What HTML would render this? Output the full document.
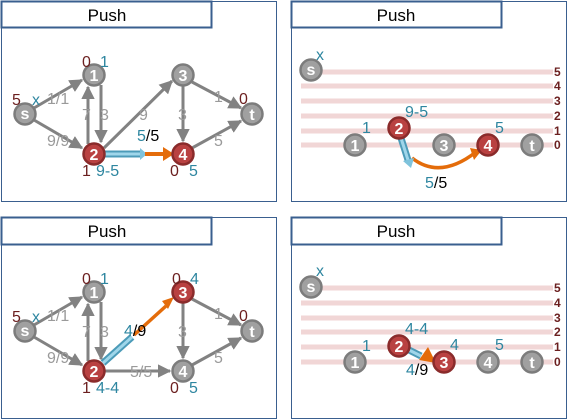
<!DOCTYPE html>
<html><head><meta charset="utf-8"><style>
body{margin:0;background:#fff}
svg{display:block;font-family:"Liberation Sans",sans-serif}
.n{stroke-width:2.5}
.g{fill:#a0a0a0;stroke:#7c7c7c}
.r{fill:#b94141;stroke:#8a2b2b}
.nt{fill:#fff;font-size:16px;font-weight:bold;text-anchor:middle}
.e{stroke:#828282;stroke-width:3;fill:none}
.dr{fill:#6b1f1f;font-size:16px}
.tl{fill:#2e86a0;font-size:16px}
.gy{fill:#9a9a9a;font-size:16px}
.lv{stroke:#f1d6d6;stroke-width:5}
.lvl{fill:#6b1f1f;font-size:12px;font-weight:bold}
</style></head><body>
<svg width="568" height="420" viewBox="0 0 568 420">
<defs>
<marker id="ag" viewBox="0 0 10 10" refX="9" refY="5" markerWidth="4.5" markerHeight="4.5" orient="auto"><path d="M0,0L10,5L0,10z" fill="#828282"/></marker>
</defs>

<!-- Panel 1 -->
<g>
<rect x="1.5" y="1.5" width="275" height="200" fill="#fff" stroke="#3a5f8f" stroke-width="1"/>
<rect x="1.5" y="1.5" width="210" height="26" fill="#fff" stroke="#3a5f8f" stroke-width="2"/>
<text x="107" y="21" font-size="17" text-anchor="middle">Push</text>
<line class="e" x1="34" y1="108" x2="82" y2="80" marker-end="url(#ag)"/>
<line class="e" x1="34" y1="120" x2="82" y2="148" marker-end="url(#ag)"/>
<line class="e" x1="88" y1="144" x2="88" y2="87" marker-end="url(#ag)"/>
<line class="e" x1="101" y1="85" x2="101" y2="142" marker-end="url(#ag)"/>
<line class="e" x1="104" y1="148" x2="172" y2="81" marker-end="url(#ag)"/>
<line class="e" x1="183" y1="86" x2="183" y2="141" marker-end="url(#ag)"/>
<line class="e" x1="192" y1="82" x2="241" y2="108" marker-end="url(#ag)"/>
<line class="e" x1="192" y1="148" x2="241" y2="121" marker-end="url(#ag)"/>
<line x1="105" y1="154" x2="140" y2="154" stroke="#4c9bb8" stroke-width="7"/>
<line x1="105" y1="154" x2="140" y2="154" stroke="#9fd6ea" stroke-width="3"/>
<path d="M140,148L147,154L140,160z" fill="#7fc3dc"/>
<line x1="145" y1="154" x2="166" y2="154" stroke="#e46c0a" stroke-width="4"/>
<path d="M163,147L174,154L163,161z" fill="#e46c0a"/>
<circle class="n g" cx="25" cy="114" r="10.5"/><text class="nt" x="25" y="119" font-size="13">s</text>
<circle class="n g" cx="94" cy="75" r="10.5"/><text class="nt" x="94" y="81">1</text>
<circle class="n r" cx="94" cy="154" r="10.5"/><text class="nt" x="94" y="160">2</text>
<circle class="n g" cx="183" cy="75" r="10.5"/><text class="nt" x="183" y="81">3</text>
<circle class="n r" cx="183" cy="154" r="10.5"/><text class="nt" x="183" y="160">4</text>
<circle class="n g" cx="252" cy="114" r="10.5"/><text class="nt" x="252" y="120">t</text>
<text class="dr" x="82" y="67">0</text><text class="tl" x="100" y="67">1</text>
<text class="dr" x="12" y="105">5</text><text class="tl" x="32" y="105">x</text>
<text class="gy" x="47" y="104">1/1</text><text class="gy" x="47" y="146">9/9</text>
<text class="gy" x="82" y="120">7</text><text class="gy" x="100" y="120">3</text>
<text class="gy" x="139" y="120">9</text><text class="gy" x="178" y="120">3</text>
<text class="gy" x="214" y="102">1</text><text class="dr" x="239" y="104">0</text>
<text class="gy" x="214" y="146">5</text>
<text x="137" y="141" font-size="16"><tspan fill="#2e86a0">5</tspan>/5</text>
<text class="dr" x="82" y="176">1</text><text class="tl" x="96" y="176">9-5</text>
<text class="dr" x="170" y="176">0</text><text class="tl" x="189" y="176">5</text>
</g>

<!-- Panel 2 -->
<g>
<rect x="291.5" y="1.5" width="275" height="200" fill="#fff" stroke="#3a5f8f" stroke-width="1"/>
<rect x="291.5" y="1.5" width="210" height="26" fill="#fff" stroke="#3a5f8f" stroke-width="2"/>
<text x="396" y="21" font-size="17" text-anchor="middle">Push</text>
<line class="lv" x1="301" y1="72" x2="553" y2="72"/><line class="lv" x1="301" y1="86" x2="553" y2="86"/>
<line class="lv" x1="301" y1="101" x2="553" y2="101"/><line class="lv" x1="301" y1="116" x2="553" y2="116"/>
<line class="lv" x1="301" y1="131" x2="553" y2="131"/><line class="lv" x1="301" y1="145" x2="553" y2="145"/>
<text class="lvl" x="554" y="76">5</text><text class="lvl" x="554" y="90">4</text><text class="lvl" x="554" y="105">3</text>
<text class="lvl" x="554" y="120">2</text><text class="lvl" x="554" y="135">1</text><text class="lvl" x="554" y="149">0</text>
<path d="M412,158Q440,180 476,152" stroke="#e46c0a" stroke-width="3.5" fill="none"/>
<path d="M470,148L482,150L474,160z" fill="#e46c0a"/>
<line x1="401" y1="138" x2="408" y2="160" stroke="#4c9bb8" stroke-width="7"/>
<line x1="401" y1="138" x2="408" y2="160" stroke="#9fd6ea" stroke-width="3"/>
<path d="M403,161L414,158L411,168z" fill="#7fc3dc"/>
<circle class="n g" cx="311" cy="70" r="10.5"/><text class="nt" x="311" y="75" font-size="13">s</text>
<circle class="n g" cx="355" cy="145" r="10.5"/><text class="nt" x="355" y="151">1</text>
<circle class="n r" cx="399" cy="128" r="10.5"/><text class="nt" x="399" y="134">2</text>
<circle class="n g" cx="444" cy="145" r="10.5"/><text class="nt" x="444" y="151">3</text>
<circle class="n r" cx="488" cy="145" r="10.5"/><text class="nt" x="488" y="151">4</text>
<circle class="n g" cx="532" cy="145" r="10.5"/><text class="nt" x="532" y="151">t</text>
<text class="tl" x="316" y="60">x</text><text class="tl" x="362" y="133">1</text>
<text class="tl" x="405" y="117">9-5</text><text class="tl" x="495" y="133">5</text>
<text x="425" y="188" font-size="16"><tspan fill="#2e86a0">5</tspan>/5</text>
</g>

<!-- Panel 3 -->
<g transform="translate(0,217)">
<rect x="1.5" y="0.5" width="275" height="201" fill="#fff" stroke="#3a5f8f" stroke-width="1"/>
<rect x="1.5" y="0.5" width="210" height="27" fill="#fff" stroke="#3a5f8f" stroke-width="2"/>
<text x="107" y="20" font-size="17" text-anchor="middle">Push</text>
<line class="e" x1="34" y1="108" x2="82" y2="80" marker-end="url(#ag)"/>
<line class="e" x1="34" y1="120" x2="82" y2="148" marker-end="url(#ag)"/>
<line class="e" x1="88" y1="144" x2="88" y2="87" marker-end="url(#ag)"/>
<line class="e" x1="101" y1="85" x2="101" y2="142" marker-end="url(#ag)"/>
<line class="e" x1="105" y1="154" x2="170" y2="154" marker-end="url(#ag)"/>
<line class="e" x1="183" y1="86" x2="183" y2="141" marker-end="url(#ag)"/>
<line class="e" x1="192" y1="82" x2="241" y2="108" marker-end="url(#ag)"/>
<line class="e" x1="192" y1="148" x2="241" y2="121" marker-end="url(#ag)"/>
<line x1="103" y1="146" x2="132" y2="120" stroke="#4c9bb8" stroke-width="7"/>
<line x1="103" y1="146" x2="132" y2="120" stroke="#9fd6ea" stroke-width="3"/>
<line x1="134" y1="118" x2="166" y2="89" stroke="#e46c0a" stroke-width="3.5"/>
<path d="M162,84L174,80L168,92z" fill="#e46c0a"/>
<circle class="n g" cx="25" cy="114" r="10.5"/><text class="nt" x="25" y="119" font-size="13">s</text>
<circle class="n g" cx="94" cy="75" r="10.5"/><text class="nt" x="94" y="81">1</text>
<circle class="n r" cx="94" cy="154" r="10.5"/><text class="nt" x="94" y="160">2</text>
<circle class="n r" cx="183" cy="75" r="10.5"/><text class="nt" x="183" y="81">3</text>
<circle class="n g" cx="183" cy="154" r="10.5"/><text class="nt" x="183" y="160">4</text>
<circle class="n g" cx="252" cy="114" r="10.5"/><text class="nt" x="252" y="120">t</text>
<text class="dr" x="82" y="67">0</text><text class="tl" x="100" y="67">1</text>
<text class="dr" x="172" y="67">0</text><text class="tl" x="190" y="67">4</text>
<text class="dr" x="12" y="105">5</text><text class="tl" x="32" y="105">x</text>
<text class="gy" x="47" y="104">1/1</text><text class="gy" x="47" y="146">9/9</text>
<text class="gy" x="82" y="120">7</text><text class="gy" x="100" y="120">3</text>
<text class="gy" x="178" y="120">3</text><text class="gy" x="130" y="160">5/5</text>
<text class="gy" x="214" y="102">1</text><text class="dr" x="239" y="104">0</text>
<text class="gy" x="214" y="146">5</text>
<text x="124" y="119" font-size="16"><tspan fill="#2e86a0">4</tspan>/9</text>
<text class="dr" x="82" y="176">1</text><text class="tl" x="96" y="176">4-4</text>
<text class="dr" x="170" y="176">0</text><text class="tl" x="189" y="176">5</text>
</g>

<!-- Panel 4 -->
<g transform="translate(0,217)">
<rect x="291.5" y="0.5" width="275" height="201" fill="#fff" stroke="#3a5f8f" stroke-width="1"/>
<rect x="291.5" y="0.5" width="210" height="27" fill="#fff" stroke="#3a5f8f" stroke-width="2"/>
<text x="396" y="20" font-size="17" text-anchor="middle">Push</text>
<line class="lv" x1="301" y1="71" x2="553" y2="71"/><line class="lv" x1="301" y1="86" x2="553" y2="86"/>
<line class="lv" x1="301" y1="101" x2="553" y2="101"/><line class="lv" x1="301" y1="115" x2="553" y2="115"/>
<line class="lv" x1="301" y1="130" x2="553" y2="130"/><line class="lv" x1="301" y1="145" x2="553" y2="145"/>
<text class="lvl" x="554" y="75">5</text><text class="lvl" x="554" y="90">4</text><text class="lvl" x="554" y="105">3</text>
<text class="lvl" x="554" y="119">2</text><text class="lvl" x="554" y="134">1</text><text class="lvl" x="554" y="149">0</text>
<line x1="407" y1="132" x2="421" y2="139" stroke="#4c9bb8" stroke-width="7"/>
<line x1="407" y1="132" x2="421" y2="139" stroke="#9fd6ea" stroke-width="3"/>
<path d="M419,143L428,130L436,146z" fill="#e46c0a"/>
<circle class="n g" cx="311" cy="70" r="10.5"/><text class="nt" x="311" y="75" font-size="13">s</text>
<circle class="n g" cx="355" cy="145" r="10.5"/><text class="nt" x="355" y="151">1</text>
<circle class="n r" cx="399" cy="129" r="10.5"/><text class="nt" x="399" y="135">2</text>
<circle class="n r" cx="444" cy="145" r="10.5"/><text class="nt" x="444" y="151">3</text>
<circle class="n g" cx="488" cy="145" r="10.5"/><text class="nt" x="488" y="151">4</text>
<circle class="n g" cx="532" cy="145" r="10.5"/><text class="nt" x="532" y="151">t</text>
<text class="tl" x="316" y="59">x</text><text class="tl" x="362" y="134">1</text>
<text class="tl" x="405" y="117">4-4</text><text class="tl" x="450" y="133">4</text>
<text class="tl" x="495" y="133">5</text>
<text x="406" y="158" font-size="16"><tspan fill="#2e86a0">4</tspan>/9</text>
</g>
</svg>
</body></html>
